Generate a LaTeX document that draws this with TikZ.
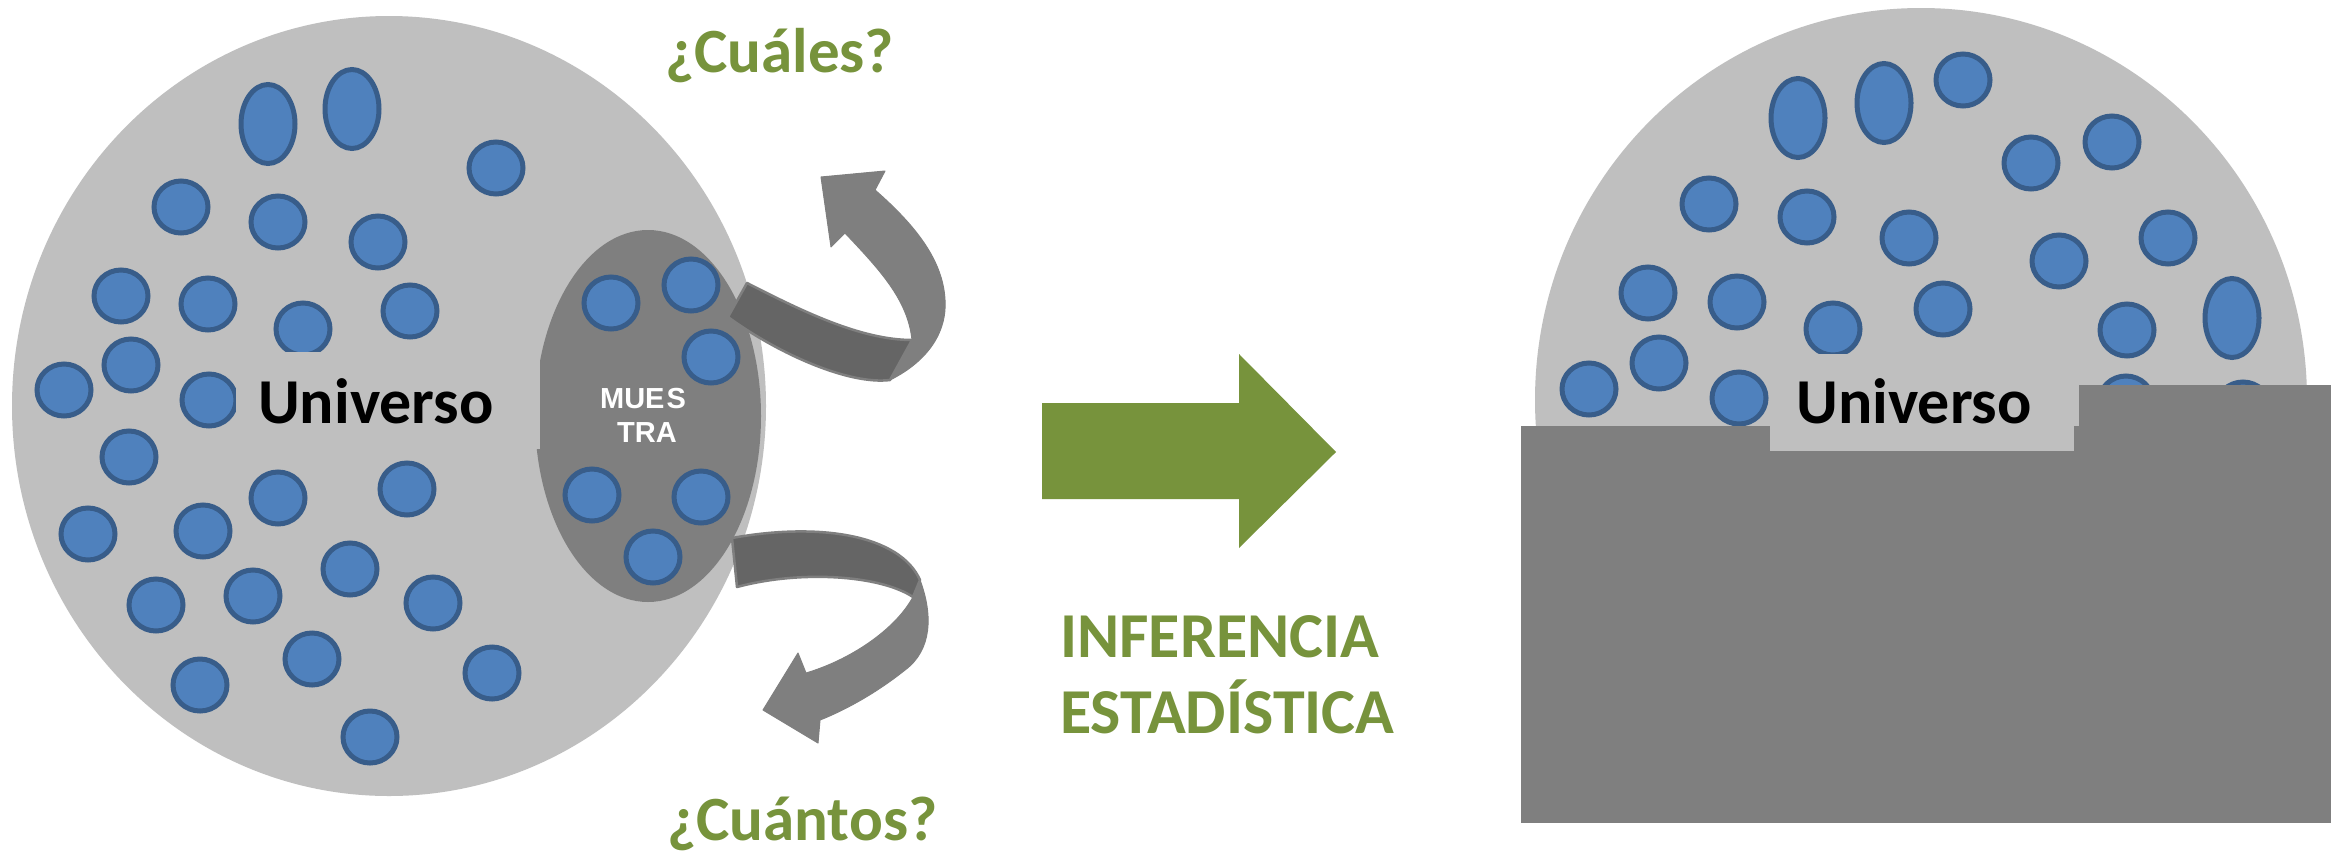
\documentclass[tikz,border=0pt]{standalone}
\usepackage{fontspec}
\setmainfont{Carlito}
\newfontfamily\arialfont{Liberation Sans}
\usetikzlibrary{shapes.geometric}
\definecolor{lgray}{HTML}{BFBFBF}
\definecolor{mgray}{HTML}{7F7F7F}
\definecolor{dgray}{HTML}{656565}
\definecolor{dotblue}{HTML}{4F81BD}
\definecolor{dotedge}{HTML}{385D8A}
\definecolor{olive}{HTML}{77933C}
\newcommand\bluedot[2]{\draw[bdot] (#1,#2) ellipse [x radius=27pt, y radius=26pt];}
\newcommand\blueoval[2]{\draw[bdot] (#1,#2) ellipse [x radius=27pt, y radius=39.5pt];}
\tikzset{
  bdot/.style={fill=dotblue, draw=dotedge, line width=5pt},
  gtext/.style={text=olive, font=\fontsize{63}{72}\selectfont\bfseries, inner sep=0pt},
  btext/.style={text=olive, font=\fontsize{64}{76}\selectfont\bfseries, inner sep=0pt},
  utext/.style={text=black, font=\fontsize{64}{76}\selectfont\bfseries, inner sep=0pt},
  ubox/.style={fill=lgray, draw=none, inner sep=0pt, minimum width=304pt, minimum height=97pt},
  mtext/.style={text=white, font=\arialfont\bfseries\fontsize{29}{34}\selectfont, inner sep=0pt},
  ribbon/.style={fill=dgray, draw=mgray, line width=2.5pt, line join=round},
  backpart/.style={fill=mgray, draw=mgray, line width=1pt, line join=round}
}
\begin{document}
\begin{tikzpicture}[x=1pt, y=-1pt]
\useasboundingbox (0,0) rectangle (2331,852);
\fill[white] (0,0) rectangle (2331,852);

% ---------- left universe ----------
\fill[lgray] (389,406) ellipse [x radius=377pt, y radius=390pt];
\blueoval{268}{124}
\blueoval{352}{109}
\bluedot{496}{168}
\bluedot{181}{207}
\bluedot{278}{222}
\bluedot{378}{242}
\bluedot{121}{296}
\bluedot{208}{304}
\bluedot{303}{329}
\bluedot{410}{311}
\bluedot{64}{390}
\bluedot{131}{365}
\bluedot{209}{400}
\bluedot{129}{457}
\bluedot{278}{498}
\bluedot{407}{489}
\bluedot{88}{534}
\bluedot{203}{531}
\bluedot{156}{605}
\bluedot{253}{596}
\bluedot{350}{569}
\bluedot{433}{603}
\bluedot{200}{685}
\bluedot{312}{659}
\bluedot{492}{673}
\bluedot{370}{737}

% muestra
\node[ellipse, fill=mgray, draw=none, minimum width=226pt, minimum height=372pt, inner sep=0pt] (muestra) at (648,416) {};
\bluedot{611}{303}
\bluedot{691}{285}
\bluedot{711}{357}
\bluedot{592}{495}
\bluedot{701}{497}
\bluedot{653}{557}
\node[mtext] (mues) at (643,399) {MUE\kern2pt S};
\node[mtext] (tra) at (647,433) {TRA};

% upper curved arrow
\path[ribbon] (747,283) .. controls (800,310) and (860,340) .. (912,340)
  -- (890,380) .. controls (850,385) and (780,355) .. (728,317) -- cycle;
\path[backpart] (890,380) .. controls (930,360) and (947,330) .. (945,300)
  .. controls (943,260) and (915,225) .. (875,190)
  -- (885,171) -- (821,177) -- (831,247) -- (845,233)
  .. controls (880,270) and (908,300) .. (912,340) -- cycle;

% lower curved arrow
\path[ribbon] (732,538) .. controls (820,522) and (900,535) .. (920,580)
  -- (913,597) .. controls (880,575) and (800,570) .. (737,587) -- cycle;
\path[backpart] (920,580) .. controls (933,615) and (932,650) .. (905,670)
  .. controls (880,690) and (850,708) .. (820,720)
  -- (818,743) -- (763,710) -- (798,653) -- (806,673)
  .. controls (850,660) and (895,630) .. (913,597) -- cycle;

% Universo label (left)
\node[ubox, anchor=north west] (ubox1) at (236,352) {};
\node[utext, anchor=base west] (utext1) at (258,423) {Universo};

% questions
\node[gtext, anchor=base west] (cuales) at (665,72) {¿Cuáles?};
\node[gtext, anchor=base west] (cuantos) at (667,840) {¿Cuántos?};

% ---------- big green arrow ----------
\fill[olive] (1042,403) -- (1239,403) -- (1239,354) -- (1336,452) -- (1239,548) -- (1239,499) -- (1042,499) -- cycle;
\node[btext, anchor=base west] (inf1) at (1060,657) {INFERENCIA};
\node[btext, anchor=base west] (inf2) at (1060,733) {ESTADÍSTICA};

% ---------- right universe ----------
\fill[lgray] (1921,400) ellipse [x radius=386pt, y radius=392pt];
\blueoval{1798}{118}
\blueoval{1884}{103}
\bluedot{1963}{80}
\bluedot{2031}{163}
\bluedot{2112}{142}
\bluedot{1709}{204}
\bluedot{1807}{217}
\bluedot{1909}{238}
\bluedot{2059}{261}
\bluedot{2168}{238}
\bluedot{1648}{293}
\bluedot{1737}{302}
\bluedot{1833}{329}
\bluedot{1943}{309}
\bluedot{2127}{330}
\blueoval{2232}{318}
\bluedot{1659}{363}
\bluedot{1589}{389}
\bluedot{1739}{398}
\bluedot{2126}{402}
\bluedot{2243}{408}

\fill[mgray] (1521,426) rectangle (2331,823);
\fill[mgray] (2079,385) rectangle (2331,426);
\node[ubox, anchor=north west] (ubox2) at (1770,354) {};
\node[utext, anchor=base west] (utext2) at (1796,423) {Universo};
\end{tikzpicture}
\end{document}
